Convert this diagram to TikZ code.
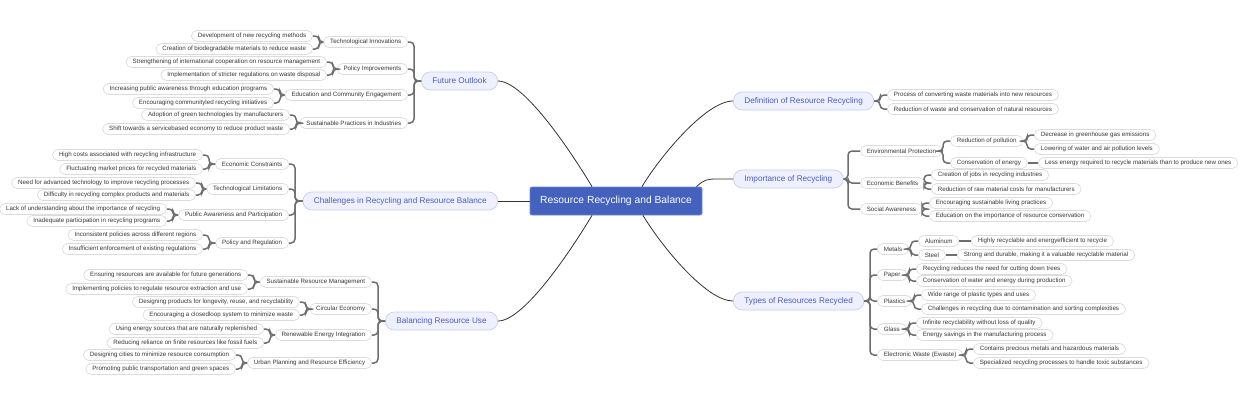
\documentclass[tikz,border=0pt]{standalone}
\usepackage{fontspec}
\setmainfont{Liberation Sans}
\usepackage{tikz}
\definecolor{rootblue}{HTML}{4361BD}
\definecolor{rootedge}{HTML}{7086CF}
\definecolor{topicfill}{HTML}{EEF1FD}
\definecolor{topicedge}{HTML}{C6CEF2}
\definecolor{topictext}{HTML}{4A5CC4}
\definecolor{leafedge}{HTML}{DCDCDC}
\definecolor{leaftext}{HTML}{383838}
\definecolor{forkgray}{HTML}{6E6E6E}
\definecolor{linkgray}{HTML}{333333}

\begin{document}
\begin{tikzpicture}[x=1pt,y=-1pt,
  root/.style={fill=rootblue,draw=rootedge,line width=0.8pt,rounded corners=2pt,text=white,
    font=\fontsize{10.3}{12}\selectfont,minimum width=172pt,minimum height=28pt,inner sep=0pt},
  topic/.style={fill=topicfill,draw=topicedge,line width=0.7pt,rounded corners=9pt,text=topictext,
    font=\fontsize{8.2}{10}\selectfont,minimum height=18pt,inner xsep=11pt,inner ysep=0pt},
  leaf/.style={fill=white,draw=leafedge,line width=0.7pt,rounded corners=5.5pt,text=leaftext,
    font=\fontsize{6.2}{7.4}\selectfont,minimum height=11pt,inner xsep=6.5pt,inner ysep=0pt},
  link/.style={draw=linkgray,line width=0.8pt},
  fork/.style={draw=forkgray,line width=1.5pt,rounded corners=4pt}]
  \useasboundingbox[fill=white] (0,-1) rectangle (1240,399);

  \node[root] (root) at (616,200) {Resource Recycling and Balance};

  % right side
  \node[topic,anchor=west] (def) at (733,100) {Definition of Resource Recycling};
  \node[leaf,anchor=west] (def1) at (887,94) {Process of converting waste materials into new resources};
  \node[leaf,anchor=west] (def2) at (887,108) {Reduction of waste and conservation of natural resources};

  \node[topic,anchor=west] (imp) at (733,178) {Importance of Recycling};
  \node[leaf,anchor=west] (env) at (860,150) {Environmental Protection};
  \node[leaf,anchor=west] (envpol) at (950,140) {Reduction of pollution};
  \node[leaf,anchor=west] (pol1) at (1034,134) {Decrease in greenhouse gas emissions};
  \node[leaf,anchor=west] (pol2) at (1034,148) {Lowering of water and air pollution levels};
  \node[leaf,anchor=west] (enveng) at (950,162) {Conservation of energy};
  \node[leaf,anchor=west] (eng1) at (1038,162) {Less energy required to recycle materials than to produce new ones};
  \node[leaf,anchor=west] (eco) at (860,182) {Economic Benefits};
  \node[leaf,anchor=west] (eco1) at (931,174) {Creation of jobs in recycling industries};
  \node[leaf,anchor=west] (eco2) at (931,188) {Reduction of raw material costs for manufacturers};
  \node[leaf,anchor=west] (soc) at (860,208) {Social Awareness};
  \node[leaf,anchor=west] (soc1) at (929,202) {Encouraging sustainable living practices};
  \node[leaf,anchor=west] (soc2) at (929,215) {Education on the importance of resource conservation};

  \node[topic,anchor=west] (typ) at (733,300) {Types of Resources Recycled};
  \node[leaf,anchor=west] (met) at (877,248) {Metals};
  \node[leaf,anchor=west] (alu) at (918,240) {Aluminum};
  \node[leaf,anchor=west] (alu1) at (971,240) {Highly recyclable and energyefficient to recycle};
  \node[leaf,anchor=west] (ste) at (918,254) {Steel};
  \node[leaf,anchor=west] (ste1) at (957,254) {Strong and durable, making it a valuable recyclable material};
  \node[leaf,anchor=west] (pap) at (877,274) {Paper};
  \node[leaf,anchor=west] (pap1) at (916,268) {Recycling reduces the need for cutting down trees};
  \node[leaf,anchor=west] (pap2) at (916,280) {Conservation of water and energy during production};
  \node[leaf,anchor=west] (pla) at (877,300) {Plastics};
  \node[leaf,anchor=west] (pla1) at (921,294) {Wide range of plastic types and uses};
  \node[leaf,anchor=west] (pla2) at (921,308) {Challenges in recycling due to contamination and sorting complexities};
  \node[leaf,anchor=west] (gla) at (877,328) {Glass};
  \node[leaf,anchor=west] (gla1) at (916,322) {Infinite recyclability without loss of quality};
  \node[leaf,anchor=west] (gla2) at (916,334) {Energy savings in the manufacturing process};
  \node[leaf,anchor=west] (ewa) at (877,354) {Electronic Waste (Ewaste)};
  \node[leaf,anchor=west] (ewa1) at (973,348) {Contains precious metals and hazardous materials};
  \node[leaf,anchor=west] (ewa2) at (973,362) {Specialized recycling processes to handle toxic substances};

  % left side
  \node[topic,anchor=east] (fut) at (498,80) {Future Outlook};
  \node[leaf,anchor=east] (tin) at (408,41) {Technological Innovations};
  \node[leaf,anchor=east] (tin1) at (313,35) {Development of new recycling methods};
  \node[leaf,anchor=east] (tin2) at (313,48) {Creation of biodegradable materials to reduce waste};
  \node[leaf,anchor=east] (pim) at (408,68) {Policy Improvements};
  \node[leaf,anchor=east] (pim1) at (327,61) {Strengthening of international cooperation on resource management};
  \node[leaf,anchor=east] (pim2) at (327,74) {Implementation of stricter regulations on waste disposal};
  \node[leaf,anchor=east] (edu) at (408,94) {Education and Community Engagement};
  \node[leaf,anchor=east] (edu1) at (274,88) {Increasing public awareness through education programs};
  \node[leaf,anchor=east] (edu2) at (274,102) {Encouraging communityled recycling initiatives};
  \node[leaf,anchor=east] (spi) at (408,122) {Sustainable Practices in Industries};
  \node[leaf,anchor=east] (spi1) at (290,114) {Adoption of green technologies by manufacturers};
  \node[leaf,anchor=east] (spi2) at (290,128) {Shift towards a servicebased economy to reduce product waste};

  \node[topic,anchor=east] (cha) at (498,200) {Challenges in Recycling and Resource Balance};
  \node[leaf,anchor=east] (ecc) at (289,163) {Economic Constraints};
  \node[leaf,anchor=east] (ecc1) at (203,154) {High costs associated with recycling infrastructure};
  \node[leaf,anchor=east] (ecc2) at (203,168) {Fluctuating market prices for recycled materials};
  \node[leaf,anchor=east] (tli) at (289,188) {Technological Limitations};
  \node[leaf,anchor=east] (tli1) at (196,182) {Need for advanced technology to improve recycling processes};
  \node[leaf,anchor=east] (tli2) at (196,194) {Difficulty in recycling complex products and materials};
  \node[leaf,anchor=east] (pub) at (289,214) {Public Awareness and Participation};
  \node[leaf,anchor=east] (pub1) at (167,208) {Lack of understanding about the importance of recycling};
  \node[leaf,anchor=east] (pub2) at (167,220) {Inadequate participation in recycling programs};
  \node[leaf,anchor=east] (preg) at (289,242) {Policy and Regulation};
  \node[leaf,anchor=east] (preg1) at (203,234) {Inconsistent policies across different regions};
  \node[leaf,anchor=east] (preg2) at (203,248) {Insufficient enforcement of existing regulations};

  \node[topic,anchor=east] (bal) at (498,320) {Balancing Resource Use};
  \node[leaf,anchor=east] (srm) at (372,281) {Sustainable Resource Management};
  \node[leaf,anchor=east] (srm1) at (248,274) {Ensuring resources are available for future generations};
  \node[leaf,anchor=east] (srm2) at (248,288) {Implementing policies to regulate resource extraction and use};
  \node[leaf,anchor=east] (cir) at (372,308) {Circular Economy};
  \node[leaf,anchor=east] (cir1) at (300,301) {Designing products for longevity, reuse, and recyclability};
  \node[leaf,anchor=east] (cir2) at (300,314) {Encouraging a closedloop system to minimize waste};
  \node[leaf,anchor=east] (ren) at (372,334) {Renewable Energy Integration};
  \node[leaf,anchor=east] (ren1) at (264,328) {Using energy sources that are naturally replenished};
  \node[leaf,anchor=east] (ren2) at (264,342) {Reducing reliance on finite resources like fossil fuels};
  \node[leaf,anchor=east] (urb) at (372,362) {Urban Planning and Resource Efficiency};
  \node[leaf,anchor=east] (urb1) at (236,354) {Designing cities to minimize resource consumption};
  \node[leaf,anchor=east] (urb2) at (236,368) {Promoting public transportation and green spaces};

  % links from the root
  \draw[link] ([xshift=-24pt]root.north) .. controls +(-18,-30) and +(27,0) .. (fut.east);
  \draw[link] (root.west) -- (cha.east);
  \draw[link] ([xshift=-24pt]root.south) .. controls +(-18,30) and +(27,0) .. (bal.east);
  \draw[link] ([xshift=26pt]root.north) .. controls +(18,-30) and +(-27,0) .. (def.west);
  \draw[link] ([xshift=-6pt]root.north east) .. controls +(8,-7) and +(-10,0) .. ([xshift=-16pt]imp.west) -- (imp.west);
  \draw[link] ([xshift=27pt]root.south) .. controls +(18,30) and +(-27,0) .. (typ.west);

  % forks
  \foreach \c/\p in {def1/def,def2/def,pol1/envpol,pol2/envpol,envpol/env,enveng/env,
      eco1/eco,eco2/eco,soc1/soc,soc2/soc,met/typ,pap/typ,pla/typ,gla/typ,ewa/typ,
      alu/met,ste/met,pap1/pap,pap2/pap,pla1/pla,pla2/pla,gla1/gla,gla2/gla,ewa1/ewa,ewa2/ewa}
    \draw[fork] (\c.west) -- ++(-7,0) |- (\p.east);
  \foreach \c in {env,eco,soc}
    \draw[fork] (\c.west) -- ++(-12,0) |- (imp.east);
  \foreach \c/\p in {enveng/eng1,alu/alu1,ste/ste1}
    \draw[fork] (\c.east) -- (\p.west);
  \foreach \c/\p in {tin/fut,pim/fut,edu/fut,spi/fut,tin1/tin,tin2/tin,pim1/pim,pim2/pim,
      edu1/edu,edu2/edu,spi1/spi,spi2/spi,ecc/cha,tli/cha,pub/cha,preg/cha,
      ecc1/ecc,ecc2/ecc,tli1/tli,tli2/tli,pub1/pub,pub2/pub,preg1/preg,preg2/preg,
      srm/bal,cir/bal,ren/bal,urb/bal,srm1/srm,srm2/srm,cir1/cir,cir2/cir,
      ren1/ren,ren2/ren,urb1/urb,urb2/urb}
    \draw[fork] (\c.east) -- ++(6,0) |- (\p.west);
\end{tikzpicture}
\end{document}
